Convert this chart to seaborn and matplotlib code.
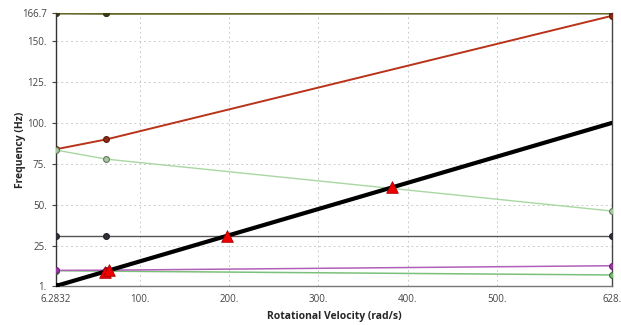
import numpy as np
import pandas as pd
import seaborn as sns
import matplotlib.pyplot as plt

sns.set_style('white')
plt.rcParams['font.family'] = ['Open Sans', 'DejaVu Sans']

# rotational velocities (rad/s)
speeds = [6.2832, 62.832, 628.32]

# mode frequencies (Hz) at each speed
mode_olive_a = [166.7, 166.7, 166.7]
mode_olive_b = [166.7, 166.55, 166.7]
mode_red = [84.0, 90.0, 165.0]
mode_ltgreen = [83.5, 78.0, 46.5]
mode_gray = [31.5, 31.5, 31.5]
mode_purple = [10.5, 10.6, 13.3]
mode_green = [10.3, 10.0, 7.7]

# 1x excitation line
excit_speed = [6.2832, 628.32]
excit_freq = [1.0, 100.0]

# critical speeds
crit_speed = [61.5, 66.0, 198.0, 382.0]
crit_freq = [9.8, 10.5, 31.5, 60.8]

xticks = [6.2832, 100, 200, 300, 400, 500, 628.32]
xticklabels = ['6.2832', '100.', '200.', '300.', '400.', '500.', '628.']
yticks = [1, 25, 50, 75, 100, 125, 150, 166.7]
yticklabels = ['1.', '25.', '50.', '75.', '100.', '125.', '150.', '166.7']

fig = plt.figure(figsize=(6.21, 3.25), dpi=100)
ax = fig.add_axes([0.090, 0.12, 0.8955, 0.84])

for xv in xticks[1:-1]:
    ax.axvline(xv, color='#cccccc', lw=0.7, ls=(0, (2, 3)), zorder=0)
for yv in yticks[1:-1]:
    ax.axhline(yv, color='#cccccc', lw=0.7, ls=(0, (2, 3)), zorder=0)

modes = [
    (mode_olive_b, '#5e5e22', 2.2, '#3a3a1a', '#3a3a1a'),
    (mode_olive_a, '#6b6b2a', 1.4, '#3a3a1a', '#3a3a1a'),
    (mode_red, '#b8331a', 1.4, '#8a2a14', '#5a2010'),
    (mode_ltgreen, '#a9d7a2', 1.0, '#a9c9a2', '#607a5a'),
    (mode_gray, '#555555', 1.0, '#303038', '#202028'),
    (mode_green, '#7ac07a', 1.1, '#7ab87a', '#3a6a3a'),
    (mode_purple, '#b060b8', 1.1, '#9a3aa0', '#6a2070'),
]
for vals, col, lw, mfc, mec in modes:
    sns.lineplot(x=speeds, y=vals, color=col, lw=lw, marker='o', markersize=4.2,
                 markerfacecolor=mfc, markeredgecolor=mec, markeredgewidth=0.8,
                 ax=ax, zorder=3)

sns.lineplot(x=excit_speed, y=excit_freq, color='black', lw=3, ax=ax, zorder=4)
ax.plot(excit_speed[0], excit_freq[0], 'o', color='black', ms=4.2, zorder=5)

sns.scatterplot(x=crit_speed, y=crit_freq, marker='^', s=70, color='#ee0000',
                edgecolor='#aa0000', linewidth=0.6, ax=ax, zorder=6)

ax.set_xlim(6.2832, 628.32)
ax.set_ylim(1, 166.7)
ax.set_xticks(xticks)
ax.set_xticklabels(xticklabels)
ax.set_yticks(yticks)
ax.set_yticklabels(yticklabels)
ax.tick_params(axis='both', labelsize=7, colors='#444444', length=3, width=0.8,
               direction='out', left=True, bottom=False)
ax.tick_params(axis='x', pad=3)
ax.set_xlabel('Rotational Velocity (rad/s)', fontsize=7.5, fontweight='bold', labelpad=4)
ax.set_ylabel('Frequency (Hz)', fontsize=7.5, fontweight='bold', labelpad=-3)

ax.spines['top'].set_visible(False)
ax.spines['left'].set_color('#333333')
ax.spines['right'].set_color('#444444')
ax.spines['bottom'].set_color('#777777')
for s in ['left', 'right', 'bottom']:
    ax.spines[s].set_linewidth(1.0)

fig.savefig('out.png', dpi=100)
